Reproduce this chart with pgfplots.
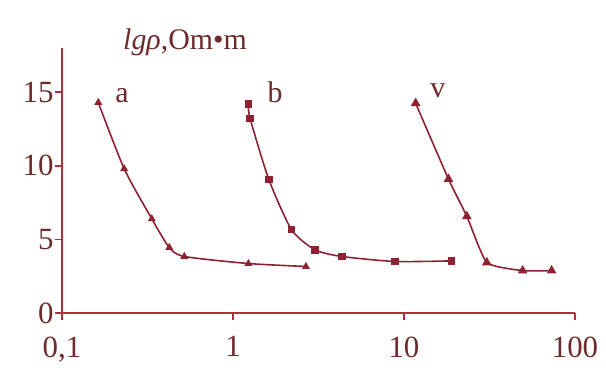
\documentclass[border=0pt]{standalone}
\usepackage{fontspec}
\setmainfont{Liberation Serif}
\usepackage{pgfplots}
\pgfplotsset{compat=1.18}
\definecolor{curve}{HTML}{8E2232}
\definecolor{axred}{HTML}{B0303A}
\definecolor{txt}{HTML}{6E2B2B}

\begin{document}
\begin{tikzpicture}
\useasboundingbox (0,0) rectangle (606bp,372bp);
\begin{axis}[
    at={(62bp,59bp)}, anchor=south west,
    scale only axis, width=513bp, height=265bp,
    xmode=log, xmin=0.1, xmax=100,
    ymin=0, ymax=18,
    axis lines*=left,
    xtick={0.1,1,10,100}, xticklabels={{0,1},1,10,100},
    ytick={0,5,10,15}, yticklabels={0,5,10,15},
    xminorticks=false,
    tick align=outside, major tick length=7bp,
    axis line style={axred, line width=1.5bp},
    tick style={axred, line width=1.5bp},
    tick label style={font=\fontsize{31}{31}\selectfont, text=txt},
    xticklabel style={yshift=-13bp},
    yticklabel style={xshift=2bp},
    clip=false,
  ]
  % a
  \addplot[curve, line width=1.6bp, smooth, tension=0.4, mark=triangle*, mark size=3bp] coordinates {
    (0.163,14.3) (0.231,9.8) (0.335,6.4) (0.424,4.45) (0.519,3.84) (1.23,3.36) (2.67,3.16)
  };
  % b
  \addplot[curve, line width=1.6bp, smooth, tension=0.4, mark=square*, mark size=3bp] coordinates {
    (1.23,14.2) (1.26,13.2) (1.62,9.07) (2.20,5.66) (3.02,4.29) (4.33,3.84) (8.85,3.5) (19.0,3.54)
  };
  % v
  \addplot[curve, line width=1.6bp, smooth, tension=0.3, mark=triangle*, mark size=4bp] coordinates {
    (11.7,14.25) (18.2,9.1) (23.3,6.57) (30.5,3.43) (49.4,2.88) (73,2.88)
  };
  \node[anchor=base, text=txt, font=\fontsize{30}{30}\selectfont] at (axis cs:0.224,14.3) {a};
  \node[anchor=base, text=txt, font=\fontsize{30}{30}\selectfont] at (axis cs:1.76,14.3) {b};
  \node[anchor=base, text=txt, font=\fontsize{30}{30}\selectfont] at (axis cs:15.8,14.66) {v};
\end{axis}
\node[text=txt, font=\fontsize{30}{30}\selectfont] at (185bp,330bp) {\textit{lgρ},Om•m};
\end{tikzpicture}
\end{document}
